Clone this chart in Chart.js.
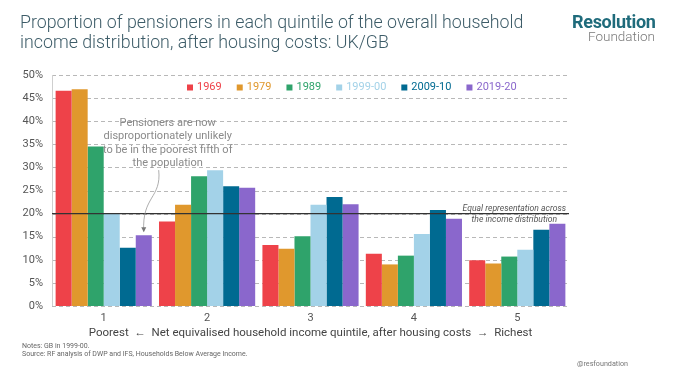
<!DOCTYPE html>
<html>
<head>
<meta charset="utf-8">
<script src="https://cdn.jsdelivr.net/npm/chart.js@4.4.1/dist/chart.umd.min.js"></script>
<style>
  html, body { margin: 0; padding: 0; background: #fff; }
  #wrap { position: relative; width: 680px; height: 382px; overflow: hidden; font-family: Roboto, "Open Sans", sans-serif; }
  #c { position: absolute; left: 0; top: 0; }
  .title { position: absolute; left: 20px; top: 12px; font-size: 17.8px; font-weight: 300; color: #3d5c68; line-height: 20px; white-space: nowrap; }
  .logo1 { position: absolute; left: 572px; top: 11px; font-size: 18px; font-weight: 700; color: #1f6b7b; letter-spacing: -0.3px; }
  .logo2 { position: absolute; left: 588px; top: 28px; font-size: 13.5px; font-weight: 300; color: #7a7a7a; }
  .notes { position: absolute; left: 22px; top: 342px; font-size: 7px; color: #666; line-height: 8px; white-space: nowrap; }
  .handle { position: absolute; left: 577px; top: 359px; font-size: 7.2px; color: #777; }
</style>
</head>
<body>
<div id="wrap">
  <canvas id="c" width="680" height="382"></canvas>
  <div class="title">Proportion of pensioners in each quintile of the overall household<br>income distribution, after housing costs: UK/GB</div>
  <div class="logo1">Resolution</div>
  <div class="logo2">Foundation</div>
  <div class="notes">Notes: GB in 1999-00.<br>Source: RF analysis of DWP and IFS, Households Below Average Income.</div>
  <div class="handle">@resfoundation</div>
</div>
<script>
const quintiles = ['1', '2', '3', '4', '5'];
const seriesNames = ['1969', '1979', '1989', '1999-00', '2009-10', '2019-20'];
const v1969   = [46.6, 18.3, 13.2, 11.3, 9.9];
const v1979   = [46.9, 21.9, 12.4, 9.0, 9.2];
const v1989   = [34.5, 28.1, 15.1, 10.9, 10.7];
const v1999   = [20.1, 29.4, 21.9, 15.6, 12.2];
const v2009   = [12.6, 25.9, 23.6, 20.8, 16.5];
const v2019   = [15.3, 25.6, 22.0, 18.9, 17.8];
const yTicks  = [0, 5, 10, 15, 20, 25, 30, 35, 40, 45, 50];
const equalShare = 20;
const xTitle = 'Poorest  \u2190  Net equivalised household income quintile, after housing costs  \u2192  Richest';
const annotationLines = ['Pensioners are now', 'disproportionately unlikely', 'to be in the poorest fifth of', 'the population'];
const equalLines = ['Equal representation across', 'the income distribution'];

const colors = ['#ee4249', '#e0982d', '#2fa36b', '#a3d2e8', '#006a91', '#8a67cc'];
const seriesValues = [v1969, v1979, v1989, v1999, v2009, v2019];

const FONT = 'Roboto, "Open Sans", sans-serif';

const gridPlugin = {
  id: 'dashGrid',
  beforeDatasetsDraw(chart) {
    const ctx = chart.ctx;
    const y = chart.scales.y;
    const area = chart.chartArea;
    ctx.save();
    ctx.strokeStyle = '#b8b8b8';
    ctx.lineWidth = 1;
    ctx.setLineDash([4, 3]);
    yTicks.forEach(v => {
      const py = Math.round(y.getPixelForValue(v)) + 0.5;
      ctx.beginPath();
      ctx.moveTo(area.left, py);
      ctx.lineTo(area.right, py);
      ctx.stroke();
    });
    ctx.setLineDash([]);
    ctx.strokeStyle = '#cfcfcf';
    ctx.beginPath();
    ctx.moveTo(area.left + 0.5, area.top);
    ctx.lineTo(area.left + 0.5, area.bottom);
    ctx.stroke();
    ctx.restore();
  }
};

const overlay = {
  id: 'overlay',
  afterDatasetsDraw(chart) {
    const ctx = chart.ctx;
    const x = chart.scales.x, y = chart.scales.y;
    const area = chart.chartArea;
    ctx.save();
    // equal representation line
    const y20 = y.getPixelForValue(equalShare);
    ctx.strokeStyle = '#333';
    ctx.lineWidth = 1.4;
    ctx.beginPath();
    ctx.moveTo(area.left, y20);
    ctx.lineTo(area.right, y20);
    ctx.stroke();
    // equal label
    ctx.fillStyle = '#555';
    ctx.font = 'italic 8.6px ' + FONT;
    ctx.textAlign = 'center';
    ctx.textBaseline = 'middle';
    const ex = x.getPixelForValue(4) - 3;
    ctx.fillText(equalLines[0], ex, y20 - 5);
    ctx.fillText(equalLines[1], ex, y20 + 6);

    // annotation
    ctx.fillStyle = '#8a8a8a';
    ctx.font = '11px ' + FONT;
    const ax = x.getPixelForValue(0) + 64;
    const ay = y.getPixelForValue(40) + 2;
    annotationLines.forEach((t, i) => ctx.fillText(t, ax, ay + i * 13.3));
    // arrow pointing to 2019-20 bar of quintile 1
    const meta = chart.getDatasetMeta(5).data[0];
    const tx = meta.x, ty = meta.y - 4;
    ctx.strokeStyle = '#999';
    ctx.lineWidth = 0.8;
    ctx.beginPath();
    ctx.moveTo(ax - 9, ay + 3 * 13.3 + 7);
    ctx.bezierCurveTo(ax - 6, ay + 75, tx - 2, ty - 35, tx, ty);
    ctx.stroke();
    ctx.fillStyle = '#777';
    ctx.beginPath();
    ctx.moveTo(tx, ty + 1);
    ctx.lineTo(tx - 2.5, ty - 4);
    ctx.lineTo(tx + 2.5, ty - 4);
    ctx.closePath();
    ctx.fill();

    // legend
    ctx.font = '11px ' + FONT;
    ctx.textAlign = 'left';
    let lx = 187;
    const ly = 87.5;
    seriesNames.forEach((n, i) => {
      ctx.fillStyle = colors[i];
      ctx.fillRect(lx, ly - 3, 6, 6);
      lx += 10;
      ctx.fillText(n, lx, ly);
      lx += ctx.measureText(n).width + 15;
    });
    ctx.restore();
  }
};

new Chart(document.getElementById('c'), {
  type: 'bar',
  data: {
    labels: quintiles,
    datasets: seriesNames.map((n, i) => ({
      label: n,
      data: seriesValues[i],
      backgroundColor: colors[i],
      borderWidth: 0,
      categoryPercentage: 0.93,
      barPercentage: 1.0
    }))
  },
  options: {
    responsive: false,
    animation: false,
    devicePixelRatio: 1,
    layout: { padding: { left: 0, right: 111, top: 75, bottom: 0 } },
    plugins: { legend: { display: false }, tooltip: { enabled: false } },
    scales: {
      x: {
        grid: { display: false, drawTicks: false },
        border: { display: false },
        ticks: { color: '#555', font: { family: FONT, size: 11 }, padding: 6 },
        title: { display: true, text: xTitle, color: '#444', font: { family: FONT, size: 11.5 }, padding: { top: 0, bottom: 42 } },
        afterFit(s) { s.height = 76; }
      },
      y: {
        min: 0, max: 50,
        afterBuildTicks(s) { s.ticks = yTicks.map(v => ({ value: v })); },
        ticks: { color: '#555', font: { family: FONT, size: 11 }, padding: 9, callback: v => v + '%' },
        grid: { display: false, drawTicks: false },
        border: { display: false },
        afterFit(s) { s.width = 52; }
      }
    }
  },
  plugins: [gridPlugin, overlay]
});
</script>
</body>
</html>
